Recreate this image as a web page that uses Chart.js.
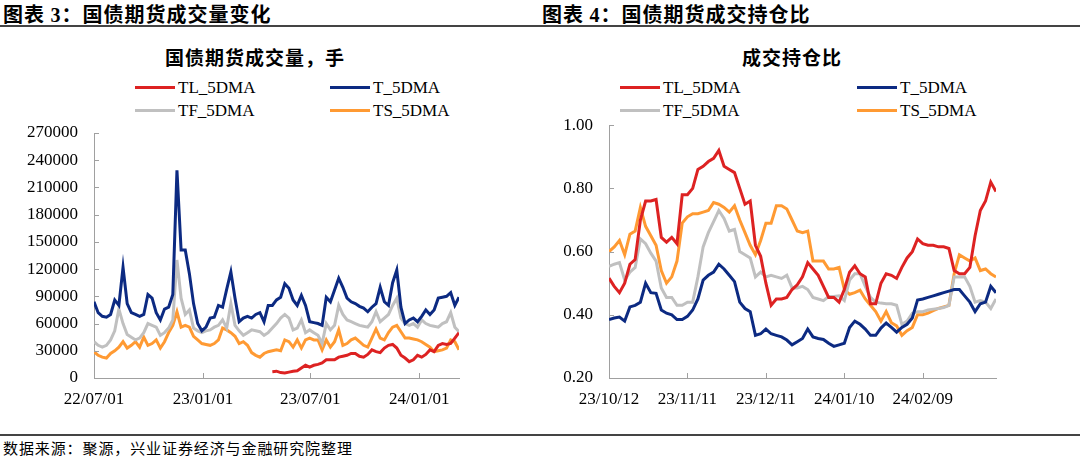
<!DOCTYPE html>
<html>
<head>
<meta charset="utf-8">
<script src="https://cdn.jsdelivr.net/npm/chart.js@4.4.1/dist/chart.umd.min.js"></script>
<style>
body{margin:0;width:1080px;height:458px;background:#fff;position:relative;overflow:hidden;
     font-family:"Noto Sans CJK SC",sans-serif;color:#000;}
.hdr{position:absolute;top:2px;font-size:20px;font-weight:bold;letter-spacing:1px;line-height:24px;white-space:nowrap;}
.hdr b{font-family:"Liberation Serif",serif;}
.rule{position:absolute;left:0;width:1080px;height:2px;background:#444;}
.ttl{position:absolute;top:44px;font-size:19px;font-weight:bold;letter-spacing:1px;line-height:26px;
     white-space:nowrap;transform:translateX(-50%);}
.leg{position:absolute;font-family:"Liberation Serif",serif;font-size:17px;line-height:20px;white-space:nowrap;}
.leg span.ln{display:inline-block;width:40px;height:3px;vertical-align:middle;margin-right:3px;position:relative;top:-2px;}
.box{position:absolute;top:99px;height:321px;}
.foot{position:absolute;left:3px;top:438px;font-size:15px;letter-spacing:0.9px;line-height:20px;white-space:nowrap;}
</style>
</head>
<body>

<div class="hdr" style="left:3px">图表 <b>3</b>：国债期货成交量变化</div>
<div class="hdr" style="left:542px">图表 <b>4</b>：国债期货成交持仓比</div>
<div class="rule" style="top:25px"></div>

<div class="ttl" style="left:255px">国债期货成交量，手</div>
<div class="ttl" style="left:792px">成交持仓比</div>

<div id="legVol"></div>
<div id="legRatio"></div>

<div class="box" style="left:0;width:480px"><canvas id="volChart" width="480" height="321"></canvas></div>
<div class="box" style="left:540px;width:540px"><canvas id="ratioChart" width="540" height="321"></canvas></div>

<div class="rule" style="top:434px"></div>
<div class="foot">数据来源：聚源，兴业证券经济与金融研究院整理</div>

<script>
// ---------------- series names / colours ----------------
var seriesNames  = ['TL_5DMA', 'T_5DMA', 'TF_5DMA', 'TS_5DMA'];
var seriesColors = ['#dd2222', '#0c2a82', '#c0c0c0', '#ff9a33'];

// ---------------- chart 3 : volume (weekly samples from 22/07/01) ----------------
var volStart = '22/07/01';
var volEnd   = '24/03/08';
var volTickLabels = ['22/07/01', '23/01/01', '23/07/01', '24/01/01'];
var volYTicks = [0, 30000, 60000, 90000, 120000, 150000, 180000, 210000, 240000, 270000];

var volTL = [
  null,null,null,null,null,null,null,null,null,null,
  null,null,null,null,null,null,null,null,null,null,
  null,null,null,null,null,null,null,null,null,null,
  null,null,null,null,null,null,null,null,null,null,
  null,null,null,7000,7500,6000,5500,6500,7500,8000,
  11000,14000,12000,14000,15000,16500,20000,20000,20000,23000,
  24000,25000,27000,27000,24000,23000,26000,31000,29000,28000,
  33000,36000,37000,33000,25000,22000,18000,20000,25000,23000,
  26000,31000,29000,36000,38000,37000,38000,44000,50000
];
var volT = [
  84000,72000,68000,67000,70000,86000,80000,122000,82000,72000,
  70000,68000,70000,92000,88000,72000,64000,76000,78000,92000,
  229000,141000,141000,115000,82000,60000,52000,56000,66000,67000,
  80000,78000,98000,117000,88000,62000,66000,68000,66000,70000,
  72000,62000,80000,80000,86000,89000,104000,99000,86000,80000,
  91000,80000,62000,61000,60000,58000,89000,84000,97000,110000,
  100000,88000,84000,82000,79000,77000,73000,78000,82000,100000,
  84000,80000,105000,119000,78000,60000,64000,66000,62000,68000,
  75000,70000,75000,88000,89000,90000,94000,80000,89000
];
var volTF = [
  40000,36000,34000,36000,42000,52000,76000,60000,48000,45000,
  42000,44000,50000,60000,58000,56000,47000,50000,55000,64000,
  130000,88000,70000,75000,55000,52000,50000,52000,53000,56000,
  58000,64000,55000,82000,58000,52000,47000,50000,53000,52000,
  51000,47000,50000,55000,60000,66000,70000,66000,53000,55000,
  64000,50000,53000,50000,47000,38000,60000,53000,58000,80000,
  70000,64000,62000,60000,58000,57000,56000,62000,73000,62000,
  66000,70000,80000,88000,66000,60000,58000,60000,56000,64000,
  60000,58000,57000,56000,60000,62000,72000,56000,51000
];
var volTS = [
  29000,25000,23000,22000,27000,30000,34000,40000,33000,36000,
  40000,34000,45000,36000,38000,42000,33000,40000,50000,58000,
  73000,56000,58000,56000,46000,42000,38000,37000,36000,38000,
  42000,55000,53000,50000,46000,38000,40000,36000,28000,25000,
  23000,27000,29000,30000,31000,30000,42000,40000,34000,42000,
  33000,42000,44000,42000,42000,31000,42000,34000,40000,53000,
  36000,38000,42000,44000,40000,36000,34000,44000,54000,44000,
  42000,50000,56000,58000,51000,44000,44000,43000,42000,40000,
  37000,34000,29000,30000,31000,33000,42000,40000,31000
];

// ---------------- chart 4 : turnover / open interest (every 2 days from 23/10/12) ----------------
var ratioStart = '23/10/12';
var ratioEnd   = '24/03/08';
var ratioTickLabels = ['23/10/12', '23/11/11', '23/12/11', '24/01/10', '24/02/09'];
var ratioYTicks = [0.20, 0.40, 0.60, 0.80, 1.00];

var ratioTL = [
  0.516,0.49,0.47,0.50,0.56,0.575,0.70,0.76,0.76,0.765,
  0.645,0.63,0.645,0.625,0.78,0.78,0.80,0.86,0.87,0.885,
  0.895,0.92,0.87,0.86,0.85,0.80,0.75,0.76,0.62,0.585,
  0.50,0.43,0.45,0.45,0.455,0.48,0.495,0.52,0.565,0.545,
  0.525,0.49,0.455,0.455,0.44,0.48,0.535,0.555,0.53,0.52,
  0.435,0.435,0.50,0.53,0.525,0.515,0.55,0.58,0.60,0.64,
  0.625,0.62,0.62,0.615,0.615,0.61,0.54,0.53,0.53,0.55,
  0.65,0.73,0.76,0.82,0.79
];
var ratioT = [
  0.385,0.39,0.393,0.38,0.425,0.43,0.44,0.50,0.47,0.468,
  0.415,0.405,0.40,0.385,0.385,0.395,0.415,0.45,0.51,0.525,
  0.535,0.56,0.545,0.525,0.505,0.44,0.42,0.41,0.335,0.34,
  0.355,0.34,0.335,0.33,0.32,0.305,0.315,0.325,0.355,0.33,
  0.325,0.322,0.31,0.30,0.305,0.31,0.36,0.38,0.37,0.355,
  0.335,0.335,0.358,0.374,0.36,0.345,0.36,0.37,0.39,0.447,
  0.45,0.455,0.46,0.465,0.47,0.475,0.48,0.48,0.46,0.44,
  0.41,0.435,0.44,0.49,0.47
];
var ratioTF = [
  0.553,0.56,0.565,0.51,0.535,0.55,0.64,0.625,0.595,0.57,
  0.485,0.455,0.455,0.43,0.43,0.44,0.44,0.52,0.615,0.66,
  0.695,0.73,0.705,0.665,0.67,0.60,0.59,0.58,0.52,0.535,
  0.52,0.525,0.52,0.515,0.525,0.485,0.485,0.49,0.48,0.455,
  0.45,0.445,0.458,0.458,0.46,0.445,0.51,0.53,0.53,0.49,
  0.455,0.44,0.437,0.435,0.435,0.43,0.37,0.38,0.405,0.41,
  0.41,0.415,0.418,0.42,0.423,0.43,0.52,0.52,0.52,0.49,
  0.44,0.445,0.44,0.42,0.45
];
var ratioTS = [
  0.60,0.615,0.635,0.59,0.655,0.665,0.74,0.68,0.65,0.62,
  0.54,0.50,0.52,0.57,0.69,0.71,0.72,0.72,0.725,0.73,
  0.755,0.75,0.74,0.725,0.745,0.70,0.66,0.62,0.59,0.635,
  0.69,0.69,0.745,0.745,0.735,0.70,0.665,0.66,0.665,0.57,
  0.57,0.57,0.545,0.545,0.55,0.48,0.465,0.47,0.478,0.45,
  0.43,0.41,0.38,0.41,0.375,0.365,0.335,0.35,0.36,0.40,
  0.40,0.405,0.413,0.42,0.425,0.43,0.53,0.59,0.58,0.57,
  0.58,0.54,0.545,0.53,0.52
];


// ++++++++++++++++++++++++ helpers ++++++++++++++++++++++++

// 'yy/mm/dd' -> day number
function dayOf(s){
    var p = s.split('/');
    return Date.UTC(2000 + (+p[0]), (+p[1]) - 1, +p[2]) / 86400000;
}

// x grid (days since start) for a sampling step
function dayGrid(start, end, step){
    var out = [];
    var first = dayOf(start), last = dayOf(end);
    for(var d = first; d <= last; d += step){
        out.push(d - first);
    }
    return out;
}

var volDays   = dayGrid(volStart, volEnd, 7);
var ratioDays = dayGrid(ratioStart, ratioEnd, 2);

function toPoints(days, values){
    return values.map(function(v, i){ return {x: days[i], y: v}; });
}

// short inward tick marks, like the excel original
var innerTicks = {
    id: 'innerTicks',
    afterDraw: function(chart){
        var c = chart.ctx, a = chart.chartArea;
        c.save();
        c.strokeStyle = '#a0a0a0';
        c.lineWidth = 1;
        c.beginPath();
        chart.scales.x.ticks.forEach(function(t, i){
            var px = Math.round(chart.scales.x.getPixelForTick(i)) + 0.5;
            c.moveTo(px, a.bottom);
            c.lineTo(px, a.bottom - 5);
        });
        chart.scales.y.ticks.forEach(function(t, i){
            var py = Math.round(chart.scales.y.getPixelForTick(i)) + 0.5;
            c.moveTo(a.left, py);
            c.lineTo(a.left + 5, py);
        });
        c.stroke();
        c.restore();
    }
};

var tickFont = {family: '"Liberation Serif", serif', size: 17};

function makeChart(canvasId, opt){
    var first = dayOf(opt.start);
    var tickDays = opt.tickLabels.map(function(s){ return dayOf(s) - first; });

    return new Chart(document.getElementById(canvasId).getContext('2d'), {
        type: 'line',
        data: {
            datasets: opt.values.map(function(vals, i){
                return {
                    label: seriesNames[i],
                    data: toPoints(opt.days, vals),
                    borderColor: seriesColors[i],
                    backgroundColor: seriesColors[i],
                    borderWidth: 3,
                    tension: 0,
                    pointRadius: 0,
                    spanGaps: false
                };
            })
        },
        options: {
            responsive: false,
            animation: false,
            events: [],
            layout: {padding: opt.padding},
            plugins: {legend: {display: false}, tooltip: {enabled: false}, title: {display: false}},
            scales: {
                x: {
                    type: 'linear',
                    min: 0,
                    max: dayOf(opt.end) - first,
                    afterBuildTicks: function(s){
                        s.ticks = tickDays.map(function(v){ return {value: v}; });
                    },
                    afterFit: function(s){ s.height = 42; },
                    grid: {display: false, drawTicks: false},
                    border: {color: '#a0a0a0', width: 1},
                    ticks: {
                        autoSkip: false, maxRotation: 0, padding: 11,
                        font: tickFont, color: '#000',
                        callback: function(v){
                            var k = tickDays.indexOf(v);
                            return k >= 0 ? opt.tickLabels[k] : '';
                        }
                    }
                },
                y: {
                    min: opt.yTicks[0],
                    max: opt.yTicks[opt.yTicks.length - 1],
                    afterBuildTicks: function(s){
                        s.ticks = opt.yTicks.map(function(v){ return {value: v}; });
                    },
                    afterFit: function(s){ s.width = opt.yWidth; },
                    grid: {display: false, drawTicks: false},
                    border: {color: '#a0a0a0', width: 1},
                    ticks: {
                        padding: 16, font: tickFont, color: '#000',
                        callback: opt.yFormat
                    }
                }
            }
        },
        plugins: [innerTicks]
    });
}

makeChart('volChart', {
    start: volStart, end: volEnd, days: volDays, tickLabels: volTickLabels,
    yTicks: volYTicks, yWidth: 94,
    yFormat: function(v){ return String(v); },
    values: [volTL, volT, volTF, volTS],
    padding: {top: 34, right: 21, bottom: 0, left: 0}
});

makeChart('ratioChart', {
    start: ratioStart, end: ratioEnd, days: ratioDays, tickLabels: ratioTickLabels,
    yTicks: ratioYTicks, yWidth: 69,
    yFormat: function(v){ return v.toFixed(2); },
    values: [ratioTL, ratioT, ratioTF, ratioTS],
    padding: {top: 26, right: 84, bottom: 0, left: 0}
});


// ++++++++++++++++++++++++ legends (html) ++++++++++++++++++++++++

function buildLegend(id, cols){
    var host = document.getElementById(id);
    var rows = [88, 111];
    seriesNames.forEach(function(name, i){
        var d = document.createElement('div');
        d.className = 'leg';
        d.style.left = cols[i % 2] + 'px';
        d.style.top = (rows[Math.floor(i / 2)] - 10) + 'px';
        d.innerHTML = '<span class="ln" style="background:' + seriesColors[i] + '"></span>' + name;
        host.appendChild(d);
    });
}

buildLegend('legVol', [135, 330]);
buildLegend('legRatio', [620, 857]);
</script>
</body>
</html>
